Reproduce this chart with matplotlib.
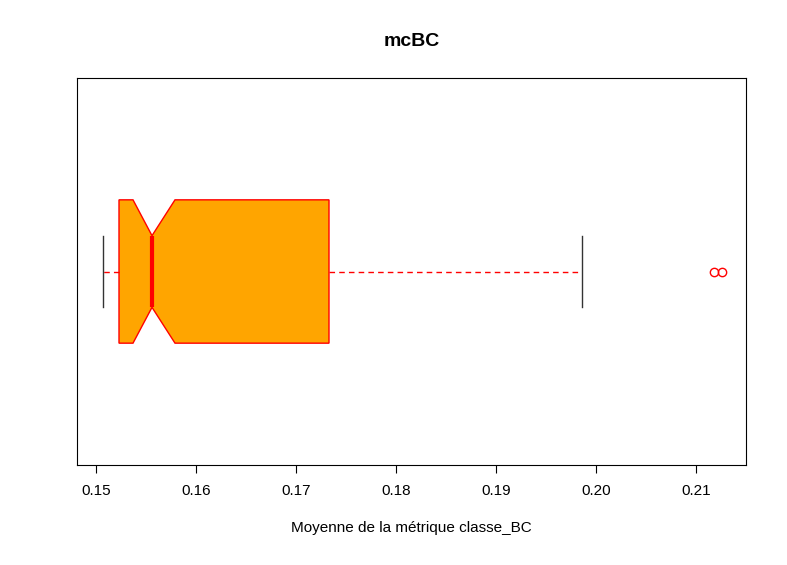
import matplotlib
matplotlib.use("Agg")
import matplotlib.pyplot as plt

plt.rcParams['font.family'] = ['Liberation Sans', 'DejaVu Sans']

whislo = 0.1507
q1 = 0.1523
med = 0.1556
q3 = 0.1733
whishi = 0.1986
cilo = 0.1537
cihi = 0.1579
fliers = [0.2118, 0.2126]
ticks = [0.15, 0.16, 0.17, 0.18, 0.19, 0.20, 0.21]
tick_labels = ["0.15", "0.16", "0.17", "0.18", "0.19", "0.20", "0.21"]

fig = plt.figure(figsize=(7.87, 5.65), dpi=100)
ax = fig.add_axes([77/787, 100/565, (746-77)/787, (465-78)/565])
stats = [dict(whislo=whislo, q1=q1, med=med, q3=q3, whishi=whishi,
              cilo=cilo, cihi=cihi, fliers=fliers)]
ax.bxp(stats, positions=[1], widths=0.4, orientation='horizontal', shownotches=True,
       patch_artist=True,
       boxprops=dict(facecolor='orange', edgecolor='red', linewidth=1),
       medianprops=dict(color='red', linewidth=3, solid_capstyle='butt'),
       whiskerprops=dict(color='red', linestyle=(0, (4, 3)), linewidth=1),
       capprops=dict(color='#333333', linewidth=1), capwidths=0.2,
       flierprops=dict(marker='o', markerfacecolor='none', markeredgecolor='red',
                       markersize=6, linestyle='none'))
ax.set_xlim(0.1481, 0.2150)
ax.set_ylim(0.46, 1.54)
ax.set_yticks([])
ax.set_xticks(ticks)
ax.set_xticklabels(tick_labels, fontsize=11)
ax.tick_params(axis='x', length=6, pad=8)
ax.set_xlabel("Moyenne de la métrique classe_BC", fontsize=11, labelpad=16)
fig.text((77+746)/2/787, 1-42/565, "mcBC", ha='center', va='center',
         fontsize=14, fontweight='bold')
fig.savefig("out.png", dpi=100)
